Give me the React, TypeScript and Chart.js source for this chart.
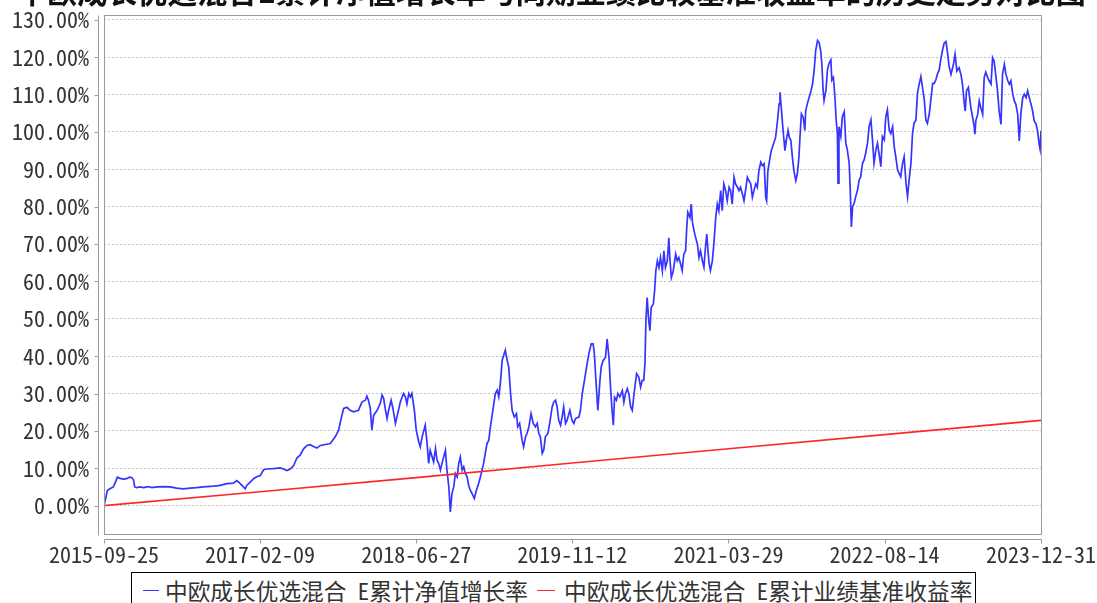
import React, { useEffect, useRef } from "react";
import { Chart, registerables } from "chart.js";

Chart.register(...registerables);

const titleText = "中欧成长优选混合E累计净值增长率与同期业绩比较基准收益率的历史走势对比图";
const startDate = "2015-09-25";
const xTickLabels = ["2015-09-25", "2017-02-09", "2018-06-27", "2019-11-12", "2021-03-29", "2022-08-14", "2023-12-31"];
const yTickValues = [0, 10, 20, 30, 40, 50, 60, 70, 80, 90, 100, 110, 120, 130];
const yMin = -7.6;
const yMax = 131.3;

const seriesLabels = ["中欧成长优选混合 E累计净值增长率", "中欧成长优选混合 E累计业绩基准收益率"];
const seriesColors = ["#3535ff", "#ff2626"];

// [days since 2015-09-25, cumulative NAV growth %]
const navPoints: [number, number][] = [
  [0, 0], [11, 4.1], [19, 4.5], [30, 5.0], [39, 6.7], [43, 7.6], [52, 7.3], [62, 7.1], [73, 7.2], [82, 7.6],
  [89, 7.5], [95, 6.9], [99, 5.0], [105, 4.8], [116, 5.0], [127, 4.8], [143, 5.1], [154, 4.8], [170, 5.0], [191, 5.1],
  [213, 5.0], [234, 4.7], [256, 4.5], [277, 4.7], [299, 4.8], [320, 5.0], [331, 5.1], [353, 5.2], [363, 5.3], [374, 5.4],
  [396, 5.9], [417, 6.0], [428, 6.7], [439, 5.9], [449, 5.0], [455, 4.5], [460, 5.4], [471, 6.3], [482, 7.2], [493, 7.8],
  [503, 8.0], [514, 9.6], [525, 9.8], [546, 9.9], [568, 10.1], [578, 9.8], [589, 9.4], [600, 9.8], [611, 10.7], [622, 12.8],
  [632, 13.5], [643, 15.2], [654, 16.1], [664, 16.3], [675, 15.8], [686, 15.4], [697, 16.1], [729, 16.6], [745, 18.4], [756, 20.2],
  [763, 22.9], [772, 26.0], [783, 26.3], [793, 25.5], [804, 25.1], [820, 25.5], [831, 27.7], [842, 28.2], [847, 29.3], [852, 28.2],
  [858, 26.0], [863, 20.2], [869, 24.2], [880, 25.5], [890, 27.3], [896, 29.6], [901, 28.7], [906, 26.0], [912, 23.3], [917, 25.5],
  [925, 28.2], [931, 26.0], [939, 22.0], [944, 23.8], [955, 27.8], [965, 30.0], [971, 29.1], [976, 27.2], [982, 30.0], [987, 29.1],
  [992, 30.0], [1000, 25.5], [1006, 20.2], [1014, 17.1], [1019, 15.7], [1025, 18.4], [1035, 21.5], [1041, 16.6], [1046, 11.3], [1051, 14.8],
  [1062, 11.7], [1068, 15.3], [1073, 12.2], [1078, 11.3], [1084, 9.5], [1089, 11.3], [1100, 14.8], [1105, 9.5], [1111, 5.0], [1116, -1.7],
  [1121, 3.2], [1127, 5.0], [1132, 8.6], [1138, 7.7], [1143, 11.3], [1148, 13.0], [1154, 9.5], [1159, 10.4], [1164, 8.6], [1170, 7.7],
  [1175, 5.4], [1180, 4.1], [1186, 3.2], [1193, 1.9], [1200, 4.1], [1207, 5.9], [1213, 7.7], [1223, 11.3], [1234, 16.6], [1240, 17.5],
  [1245, 21.1], [1250, 23.8], [1256, 27.3], [1261, 30.0], [1267, 30.9], [1272, 29.1], [1277, 32.7], [1283, 38.9], [1288, 40.3], [1293, 41.6],
  [1299, 38.9], [1304, 37.1], [1310, 30.0], [1315, 25.5], [1322, 23.7], [1329, 24.6], [1333, 21.1], [1339, 22.0], [1347, 17.5], [1352, 15.7],
  [1358, 18.4], [1363, 19.3], [1369, 21.1], [1376, 24.6], [1383, 22.0], [1390, 21.1], [1396, 22.0], [1401, 19.3], [1406, 18.4], [1412, 14.0],
  [1417, 14.9], [1422, 18.4], [1430, 19.3], [1436, 22.0], [1444, 26.4], [1449, 27.7], [1455, 28.2], [1460, 26.4], [1465, 22.8], [1471, 21.5],
  [1476, 23.7], [1481, 26.4], [1487, 22.0], [1492, 22.8], [1501, 25.5], [1508, 22.8], [1514, 22.0], [1519, 23.3], [1530, 23.7], [1535, 25.5],
  [1541, 30.0], [1548, 33.5], [1555, 37.1], [1562, 40.6], [1570, 43.3], [1576, 43.3], [1580, 40.6], [1585, 33.5], [1591, 25.5], [1598, 33.5],
  [1602, 37.1], [1608, 38.8], [1616, 39.7], [1621, 44.6], [1627, 39.7], [1632, 31.7], [1637, 25.5], [1641, 21.5], [1645, 29.0], [1651, 28.2],
  [1656, 30.0], [1662, 29.1], [1670, 30.8], [1675, 27.7], [1680, 29.9], [1686, 31.3], [1691, 29.9], [1697, 26.4], [1702, 25.5], [1709, 30.8],
  [1716, 35.3], [1723, 34.4], [1729, 31.7], [1734, 33.5], [1739, 33.5], [1743, 38.0], [1746, 49.5], [1750, 55.7], [1755, 49.5], [1759, 46.8],
  [1763, 53.0], [1770, 54.0], [1774, 57.5], [1778, 62.8], [1783, 65.5], [1788, 63.7], [1793, 66.4], [1799, 62.8], [1804, 68.2], [1809, 63.7],
  [1815, 65.5], [1820, 71.7], [1823, 66.4], [1828, 61.0], [1834, 62.8], [1842, 67.3], [1847, 65.5], [1852, 66.4], [1858, 64.6], [1863, 62.9],
  [1868, 67.3], [1874, 68.2], [1877, 73.6], [1881, 78.5], [1888, 77.1], [1892, 80.7], [1896, 75.8], [1901, 73.6], [1906, 71.8], [1912, 70.0],
  [1917, 66.4], [1922, 68.2], [1928, 65.5], [1933, 63.8], [1937, 68.2], [1942, 72.7], [1946, 68.2], [1950, 64.6], [1954, 62.9], [1960, 65.5],
  [1965, 70.0], [1971, 77.1], [1976, 80.7], [1981, 78.9], [1987, 84.3], [1992, 78.9], [1997, 86.1], [2003, 84.3], [2008, 81.6], [2014, 85.2],
  [2019, 84.3], [2024, 80.7], [2030, 87.9], [2035, 86.1], [2041, 85.2], [2046, 84.3], [2051, 85.2], [2057, 83.4], [2062, 81.6], [2067, 84.3],
  [2073, 87.9], [2078, 87.0], [2084, 86.1], [2089, 82.5], [2094, 84.3], [2100, 86.1], [2105, 85.2], [2110, 89.6], [2116, 91.9], [2121, 91.0],
  [2127, 91.5], [2132, 82.5], [2135, 81.6], [2139, 89.6], [2146, 93.2], [2150, 95.0], [2157, 96.8], [2164, 98.6], [2170, 103.0], [2175, 107.5],
  [2178, 110.6], [2183, 105.7], [2187, 101.3], [2191, 97.7], [2194, 95.0], [2200, 98.6], [2204, 100.4], [2208, 98.6], [2213, 97.7], [2218, 93.2],
  [2223, 89.6], [2229, 87.0], [2234, 88.8], [2239, 93.2], [2243, 99.5], [2247, 104.8], [2253, 103.9], [2258, 100.4], [2261, 105.7], [2266, 107.5],
  [2272, 109.3], [2277, 110.6], [2283, 112.9], [2288, 116.4], [2293, 121.8], [2299, 124.5], [2304, 124.0], [2309, 121.8], [2313, 118.2], [2317, 111.1],
  [2320, 108.4], [2326, 111.1], [2331, 116.6], [2336, 118.4], [2342, 119.3], [2345, 113.9], [2350, 114.6], [2355, 109.5], [2359, 103.2], [2363, 99.6],
  [2365, 86.3], [2368, 101.4], [2374, 98.8], [2379, 104.1], [2385, 105.4], [2390, 97.0], [2395, 95.2], [2401, 91.6], [2404, 85.4], [2408, 74.6],
  [2412, 80.0], [2417, 80.9], [2422, 82.7], [2428, 84.5], [2433, 87.1], [2438, 88.0], [2444, 91.6], [2449, 92.5], [2454, 94.3], [2460, 97.0],
  [2465, 101.4], [2471, 103.2], [2476, 97.9], [2481, 91.6], [2487, 95.2], [2492, 97.0], [2497, 94.3], [2503, 90.7], [2508, 98.8], [2514, 97.9],
  [2519, 104.1], [2524, 105.9], [2530, 100.5], [2535, 99.6], [2541, 101.4], [2546, 96.1], [2551, 93.4], [2557, 89.8], [2562, 88.9], [2567, 88.0],
  [2573, 91.6], [2578, 93.4], [2584, 86.3], [2589, 82.7], [2594, 87.1], [2600, 91.6], [2605, 99.6], [2610, 102.3], [2616, 103.2], [2621, 110.4],
  [2627, 113.0], [2632, 114.8], [2637, 112.0], [2643, 108.6], [2648, 103.2], [2653, 102.3], [2659, 104.8], [2664, 108.6], [2670, 113.0], [2675, 113.0],
  [2680, 113.9], [2686, 115.7], [2691, 116.6], [2696, 119.3], [2702, 122.0], [2707, 123.8], [2713, 124.2], [2718, 121.1], [2723, 117.5], [2729, 115.4],
  [2737, 118.1], [2742, 120.8], [2748, 116.3], [2755, 117.2], [2761, 115.4], [2766, 112.8], [2772, 107.4], [2775, 105.6], [2779, 111.0], [2785, 111.9],
  [2789, 109.2], [2793, 106.5], [2799, 103.8], [2804, 101.2], [2806, 99.4], [2809, 103.0], [2815, 104.7], [2820, 108.3], [2825, 106.5], [2831, 104.7],
  [2836, 114.6], [2841, 116.0], [2847, 114.6], [2852, 113.7], [2858, 112.8], [2863, 119.9], [2868, 119.0], [2874, 114.6], [2879, 111.0], [2884, 105.6],
  [2890, 102.0], [2895, 115.4], [2901, 118.1], [2906, 115.4], [2912, 113.7], [2917, 112.8], [2922, 113.7], [2928, 110.1], [2933, 108.3], [2938, 107.4],
  [2944, 104.7], [2949, 97.6], [2954, 104.7], [2960, 109.2], [2965, 110.1], [2971, 109.2], [2976, 111.0], [2981, 109.2], [2987, 107.4], [2992, 105.6],
  [2997, 103.0], [3003, 102.1], [3008, 100.3], [3013, 96.7], [3016, 95.4], [3019, 100.3],
];

// benchmark cumulative return % read at the tick dates
const benchDates = ["2015-09-25", "2017-02-09", "2018-06-27", "2019-11-12", "2021-03-29", "2022-08-14", "2023-12-31"];
const benchValues = [0, 3.7, 7.5, 11.4, 15.2, 19.0, 22.8];

const FONT = "'Noto Sans Mono CJK SC', 'Noto Sans CJK SC', 'DejaVu Sans Mono', sans-serif";

const dayOf = (d: string) => (Date.parse(d + "T00:00:00Z") - Date.parse(startDate + "T00:00:00Z")) / 86400000;

const framePlugin = {
  id: "frame",
  afterDraw(chart: any) {
    const { ctx, chartArea: a, scales } = chart;
    ctx.save();
    ctx.strokeStyle = "#9a9a9a";
    ctx.lineWidth = 1;
    const L = Math.round(a.left) + 0.5;
    const R = Math.round(a.right) + 0.5;
    const T = Math.round(a.top) + 0.5;
    const B = Math.round(a.bottom) + 0.5;
    ctx.strokeRect(L, T, R - L, B - T);
    ctx.beginPath();
    const ax = L - 6;
    ctx.moveTo(ax, T);
    ctx.lineTo(ax, B + 1);
    scales.y.ticks.forEach((t: any) => {
      const y = Math.round(scales.y.getPixelForValue(t.value)) + 0.5;
      ctx.moveTo(ax - 4, y);
      ctx.lineTo(ax, y);
    });
    const ay = B + 5;
    ctx.moveTo(L, ay);
    ctx.lineTo(R, ay);
    scales.x.ticks.forEach((t: any) => {
      const x = Math.round(scales.x.getPixelForValue(t.value)) + 0.5;
      ctx.moveTo(x, ay);
      ctx.lineTo(x, ay + 4);
    });
    ctx.stroke();
    ctx.restore();
  },
};

function LineChart() {
  const ref = useRef<HTMLCanvasElement>(null);
  useEffect(() => {
    if (!ref.current) return;
    const xTickDays = xTickLabels.map(dayOf);
    const chart = new Chart(ref.current, {
      type: "line",
      data: {
        datasets: [
          {
            label: seriesLabels[0],
            data: navPoints.map(([d, v]) => ({ x: d, y: v })),
            borderColor: seriesColors[0],
            borderWidth: 1.7,
            pointRadius: 0,
            tension: 0,
            order: 2,
          },
          {
            label: seriesLabels[1],
            data: benchDates.map((d, i) => ({ x: dayOf(d), y: benchValues[i] })),
            borderColor: seriesColors[1],
            borderWidth: 1.6,
            pointRadius: 0,
            tension: 0,
            order: 1,
          },
        ],
      },
      options: {
        animation: false,
        responsive: false,
        layout: { padding: { top: 15, right: 56, left: 0, bottom: 0 } },
        plugins: { legend: { display: false }, tooltip: { enabled: false }, title: { display: false } },
        scales: {
          x: {
            type: "linear",
            min: 0,
            max: dayOf(xTickLabels[xTickLabels.length - 1]),
            afterBuildTicks: (axis: any) => {
              axis.ticks = xTickDays.map((v) => ({ value: v }));
            },
            afterFit: (axis: any) => {
              axis.height = 69;
              axis.paddingLeft = 0;
              axis.paddingRight = 0;
            },
            grid: { display: false, drawTicks: false },
            border: { display: false },
            ticks: {
              autoSkip: false,
              maxRotation: 0,
              padding: 7,
              color: "#333",
              font: { family: FONT, size: 22 },
              callback: (_v: any, i: number) => xTickLabels[i],
            },
          },
          y: {
            min: yMin,
            max: yMax,
            afterBuildTicks: (axis: any) => {
              axis.ticks = yTickValues.map((v) => ({ value: v }));
            },
            afterFit: (axis: any) => {
              axis.width = 104;
              axis.paddingTop = 0;
              axis.paddingBottom = 0;
            },
            grid: { color: "#c4c4c4", lineWidth: 1, drawTicks: false },
            border: { display: false, dash: [2, 2] },
            ticks: {
              padding: 15,
              color: "#333",
              font: { family: FONT, size: 22 },
              callback: (v: any) => Number(v).toFixed(2) + "%",
            },
          },
        },
      },
      plugins: [framePlugin],
    } as any);
    return () => chart.destroy();
  }, []);
  return <canvas ref={ref} width={1097} height={603} style={{ position: "absolute", left: 0, top: 0, width: 1097, height: 603 }} />;
}

export default function App() {
  return (
    <div style={{ position: "fixed", left: 0, top: 0, width: 1097, height: 603, overflow: "hidden", background: "#fff" }}>
      <LineChart />
      <div
        style={{
          position: "absolute",
          left: 3,
          top: -25,
          width: 1097,
          textAlign: "center",
          fontFamily: "'Noto Sans CJK SC', sans-serif",
          fontWeight: 700,
          fontSize: 30,
          lineHeight: "30px",
          whiteSpace: "nowrap",
          color: "#111",
        }}
      >
        {titleText}
      </div>
      <div
        style={{
          position: "absolute",
          left: 131,
          top: 572,
          width: 845,
          height: 42,
          border: "1px solid #000",
          boxSizing: "border-box",
          fontFamily: FONT,
          fontSize: 22.7,
          lineHeight: "36px",
          color: "#333",
          whiteSpace: "nowrap",
          paddingLeft: 11,
          background: "#fff",
        }}
      >
        {seriesLabels.map((lab, i) => (
          <span key={lab} style={{ marginLeft: i === 0 ? 0 : 9 }}>
            <span
              style={{
                display: "inline-block",
                width: i === 0 ? 16 : 18,
                height: 0,
                borderTop: `1.5px solid ${seriesColors[i]}`,
                verticalAlign: "middle",
                position: "relative",
                top: -3,
                marginRight: i === 0 ? 6 : 9,
              }}
            />
            {lab}
          </span>
        ))}
      </div>
    </div>
  );
}
